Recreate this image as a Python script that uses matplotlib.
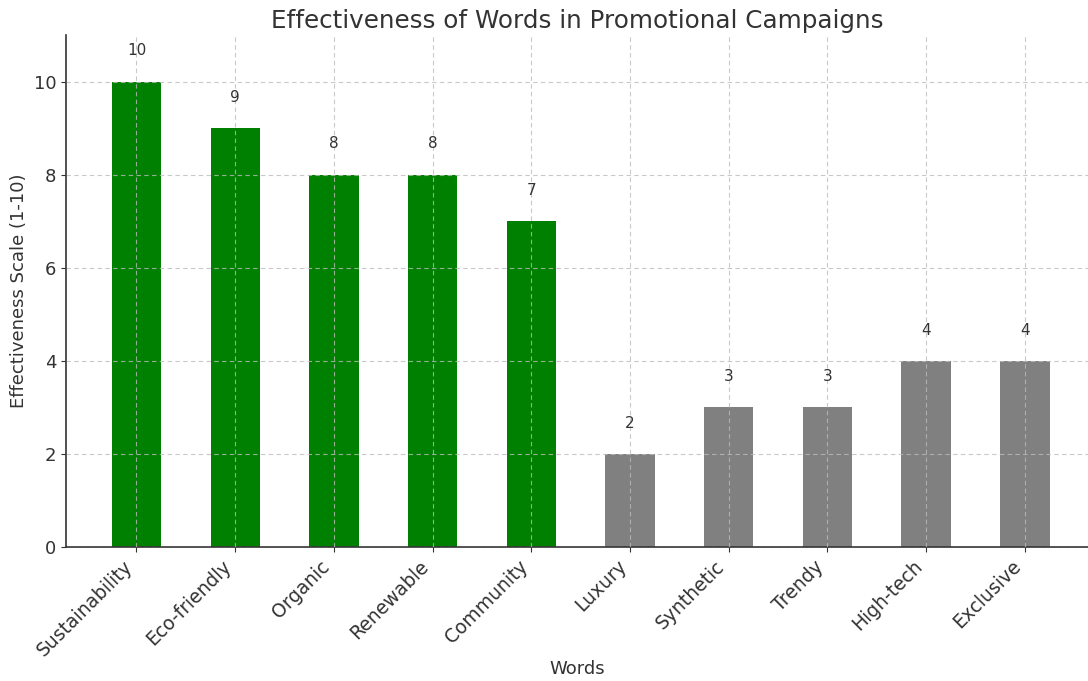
import matplotlib
matplotlib.use("Agg")
import matplotlib.pyplot as plt

# data
words = ["Sustainability", "Eco-friendly", "Organic", "Renewable", "Community",
         "Luxury", "Synthetic", "Trendy", "High-tech", "Exclusive"]
scores = [10, 9, 8, 8, 7, 2, 3, 3, 4, 4]
colors = ["green"] * 5 + ["gray"] * 5

txt = "#333333"
plt.rcParams["text.color"] = txt
plt.rcParams["axes.labelcolor"] = txt
plt.rcParams["xtick.color"] = txt
plt.rcParams["ytick.color"] = txt

fig = plt.figure(figsize=(10.88, 6.81), dpi=100)
ax = fig.add_axes([66 / 1088, 1 - 547 / 681, (1088 - 66) / 1088, (547 - 35) / 681])

bars = ax.bar(range(len(words)), scores, width=0.5, color=colors)
for i, v in enumerate(scores):
    ax.text(i, v + 0.5, str(v), ha="center", va="bottom", fontsize=11, color=txt)

ax.set_xlim(-0.714, 9.64)
ax.set_ylim(0, 11)
ax.set_xticks(range(len(words)))
ax.set_xticklabels(words, rotation=45, ha="right", fontsize=13.5)
ax.tick_params(axis="y", labelsize=13)
ax.set_yticks([0, 2, 4, 6, 8, 10])

ax.grid(True, linestyle="--", color="#bbbbbb", linewidth=0.8, alpha=0.8, dashes=(4, 3))
ax.set_axisbelow(False)
for s in ["top", "right"]:
    ax.spines[s].set_visible(False)
for s in ["left", "bottom"]:
    ax.spines[s].set_color("#333333")
    ax.spines[s].set_linewidth(1.2)

ax.set_title("Effectiveness of Words in Promotional Campaigns", fontsize=17.7, color="#333333", pad=5)
ax.set_xlabel("Words", fontsize=13, labelpad=0)
ax.set_ylabel("Effectiveness Scale (1-10)", fontsize=13)

fig.savefig("out.png", dpi=100)
